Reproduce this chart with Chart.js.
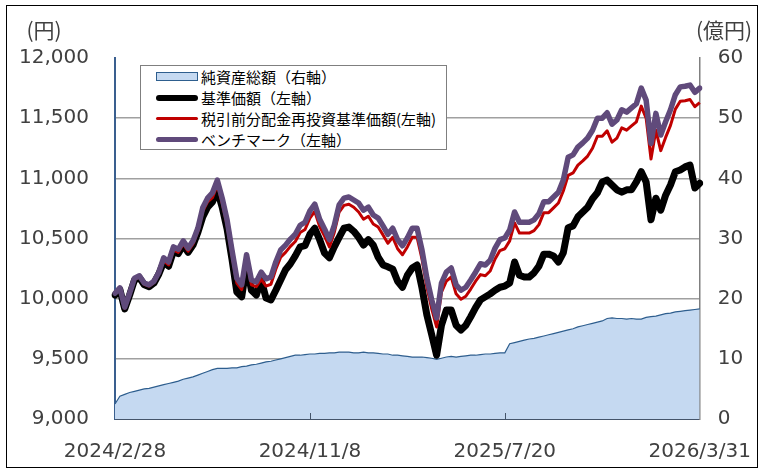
<!DOCTYPE html>
<html>
<head>
<meta charset="utf-8">
<script src="https://cdn.jsdelivr.net/npm/chart.js@4.4.1/dist/chart.umd.min.js"></script>
<style>
  body { margin: 0; background: #fff; }
  #wrap { position: relative; width: 764px; height: 469px; }
  #frame { position: absolute; left: 6px; top: 5px; width: 752px; height: 463px; border: 1px solid #000; box-sizing: border-box; pointer-events: none; }
  #legend { position: absolute; left: 140px; top: 65px; width: 307px; height: 85px; border: 1px solid #7f7f7f; background: #fff; box-sizing: border-box; font-family: 'Noto Sans CJK JP'; font-size: 15px; color: #000; }
  .row { height: 21px; display: flex; align-items: center; white-space: nowrap; }
  .swatch { width: 42px; margin-left: 15px; margin-right: 3px; box-sizing: border-box; }
</style>
</head>
<body>
<div id="wrap">
  <canvas id="myChart"></canvas>
  <div id="legend"></div>
  <div id="frame"></div>
</div>
<script>
// x axis labels (only 4 dates are printed)
const tickLabels = ['2024/2/28', '2024/11/8', '2025/7/20', '2026/3/31'];
const tickIndex = [0, 40, 80, 120];

// 純資産総額 (億円, right axis)
const netAssets = [
  2.5, 3.8, 4.1, 4.4, 4.6, 4.8, 5.0, 5.1, 5.3, 5.5,
  5.7, 5.9, 6.1, 6.3, 6.6, 6.8, 7.0, 7.3, 7.6, 7.9,
  8.2, 8.4, 8.4, 8.4, 8.5, 8.5, 8.7, 8.8, 9.0, 9.1,
  9.3, 9.5, 9.6, 9.8, 10.0, 10.2, 10.4, 10.6, 10.6, 10.7,
  10.8, 10.8, 10.9, 10.9, 11.0, 11.0, 11.1, 11.1, 11.1, 11.0,
  11.0, 11.1, 11.0, 11.0, 10.9, 10.8, 10.8, 10.6, 10.6, 10.5,
  10.4, 10.3, 10.3, 10.3, 10.2, 10.1, 9.9, 10.1, 10.3, 10.4,
  10.3, 10.4, 10.5, 10.6, 10.6, 10.7, 10.8, 10.8, 10.9, 11.0,
  11.0, 12.5, 12.7, 12.9, 13.1, 13.3, 13.4, 13.6, 13.8, 14.0,
  14.2, 14.4, 14.6, 14.8, 15.0, 15.3, 15.5, 15.7, 15.9, 16.1,
  16.3, 16.7, 16.8, 16.7, 16.7, 16.6, 16.7, 16.6, 16.6, 16.9,
  17.0, 17.1, 17.3, 17.5, 17.6, 17.8, 17.9, 18.0, 18.1, 18.2,
  18.3
];

// 基準価額 (円)
const nav = [
  10030, 10075, 9915, 10030, 10155, 10175, 10115, 10100, 10130, 10205,
  10305, 10270, 10395, 10375, 10445, 10385, 10445, 10550, 10680, 10760,
  10805, 10900, 10760, 10580, 10330, 10055, 10015, 10280, 10070, 10030,
  10155, 10005, 9990, 10070, 10155, 10240, 10290, 10355, 10430, 10440,
  10535, 10585, 10490, 10380, 10340, 10430, 10510, 10585, 10595, 10560,
  10510, 10445, 10490, 10445, 10345, 10280, 10265, 10245, 10145, 10095,
  10195, 10255, 10280, 10090, 9865, 9700, 9530, 9780, 9905, 9905,
  9780, 9740, 9780, 9850, 9925, 9990, 10015, 10040, 10070, 10095,
  10105, 10130, 10305, 10195, 10180, 10180, 10215, 10270, 10370, 10370,
  10355, 10305, 10380, 10590, 10605, 10680, 10720, 10760, 10830, 10880,
  10970, 10985, 10945, 10905, 10885, 10905, 10905, 10970, 11055, 10970,
  10655, 10835, 10735, 10860, 10945, 11055, 11070, 11095, 11110, 10920,
  10960
];

// 税引前分配金再投資基準価額 (円)
const navReinvested = [
  10040, 10080, 9920, 10035, 10160, 10180, 10120, 10105, 10135, 10210,
  10315, 10280, 10405, 10385, 10455, 10395, 10455, 10560, 10725, 10805,
  10840, 10945, 10795, 10615, 10365, 10130, 10075, 10325, 10115, 10100,
  10160, 10105, 10120, 10245, 10345, 10385, 10435, 10475, 10550, 10575,
  10670, 10725, 10600, 10520, 10430, 10550, 10720, 10775, 10785, 10760,
  10720, 10660, 10685, 10620, 10595, 10530, 10460, 10510, 10415, 10365,
  10430, 10510, 10510, 10330, 10095, 9915, 9765, 10055, 10145, 10180,
  10040, 9995, 10020, 10080, 10145, 10200, 10190, 10230, 10330, 10400,
  10415, 10480, 10630, 10545, 10545, 10545, 10565, 10615, 10715, 10715,
  10755, 10795, 10895, 11025, 11045, 11110, 11145, 11185, 11250, 11350,
  11350, 11395, 11300, 11335, 11420, 11400, 11435, 11470, 11600, 11500,
  11160, 11400, 11230, 11340, 11440, 11575, 11640, 11645, 11655, 11595,
  11630
];

// ベンチマーク (円)
const benchmark = [
  10045, 10090, 9930, 10045, 10170, 10190, 10130, 10115, 10145, 10220,
  10340, 10305, 10430, 10410, 10480, 10420, 10480, 10585, 10755, 10835,
  10880, 10985, 10835, 10655, 10405, 10170, 10115, 10365, 10155, 10140,
  10220, 10165, 10180, 10305, 10405, 10445, 10495, 10535, 10610, 10635,
  10730, 10785, 10660, 10580, 10490, 10610, 10780, 10835, 10845, 10820,
  10795, 10735, 10760, 10695, 10670, 10605, 10535, 10585, 10490, 10440,
  10505, 10585, 10585, 10405, 10170, 9990, 9840, 10130, 10220, 10255,
  10115, 10070, 10095, 10155, 10220, 10290, 10280, 10320, 10420, 10490,
  10505, 10570, 10720, 10635, 10635, 10635, 10655, 10705, 10805, 10805,
  10845, 10885, 10985, 11175, 11195, 11260, 11295, 11335, 11400, 11500,
  11500, 11545, 11450, 11485, 11570, 11550, 11585, 11620, 11750, 11650,
  11290, 11540, 11360, 11470, 11570, 11695, 11760, 11765, 11775, 11715,
  11750
];

const labels = benchmark.map((v, i) => {
  const k = tickIndex.indexOf(i);
  return k >= 0 ? tickLabels[k] : '';
});

const textColor = '#404040';

const decor = {
  id: 'decor',
  afterDraw(chart) {
    const { ctx, chartArea, scales: { x } } = chart;
    ctx.save();
    ctx.strokeStyle = '#44546A';
    ctx.lineWidth = 1;
    tickIndex.slice(1, -1).forEach((i) => {
      const px = Math.round(x.getPixelForValue(i)) + 0.5;
      ctx.beginPath();
      ctx.moveTo(px, chartArea.bottom);
      ctx.lineTo(px, chartArea.bottom - 6);
      ctx.stroke();
    });
    ctx.fillStyle = textColor;
    ctx.font = '21px "Noto Sans CJK JP"';
    ctx.textAlign = 'center';
    ctx.textBaseline = 'middle';
    ctx.fillText('(円)', 44, 30);
    ctx.fillText('(億円)', 724, 30);
    ctx.restore();
  }
};

const data = {
  labels: labels,
  datasets: [
    {
      label: '純資産総額（右軸）',
      data: netAssets,
      yAxisID: 'y1',
      fill: 'origin',
      backgroundColor: '#C5D9F1',
      borderColor: '#2E5E8E',
      borderWidth: 1.2,
      pointRadius: 0,
      order: 3
    },
    {
      label: '基準価額（左軸）',
      data: nav,
      yAxisID: 'y',
      borderColor: '#000000',
      borderWidth: 7,
      pointRadius: 0,
      borderJoinStyle: 'round',
      borderCapStyle: 'round',
      order: 2
    },
    {
      label: '税引前分配金再投資基準価額(左軸)',
      data: navReinvested,
      yAxisID: 'y',
      borderColor: '#C00000',
      borderWidth: 3,
      pointRadius: 0,
      borderJoinStyle: 'round',
      order: 1
    },
    {
      label: 'ベンチマーク（左軸）',
      data: benchmark,
      yAxisID: 'y',
      borderColor: '#604A7B',
      borderWidth: 5.5,
      pointRadius: 0,
      borderJoinStyle: 'round',
      borderCapStyle: 'round',
      order: 0
    }
  ]
};

const axisFont = { family: 'DejaVu Sans', size: 20 };

const config = {
  type: 'line',
  data: data,
  plugins: [decor],
  options: {
    responsive: true,
    maintainAspectRatio: false,
    animation: false,
    layout: { padding: { top: 58, left: 0, right: 0, bottom: 0 } },
    plugins: { legend: { display: false }, tooltip: { enabled: false } },
    scales: {
      x: {
        type: 'category',
        offset: false,
        grid: { display: false },
        border: { color: '#44546A', width: 2 },
        ticks: { autoSkip: false, maxRotation: 0, padding: 13, color: textColor, font: axisFont },
        afterFit: (s) => { s.height = 50; }
      },
      y: {
        position: 'left',
        min: 9000,
        max: 12000,
        grid: {
          drawTicks: false,
          color: (c) => (c.tick.value === 9000 || c.tick.value === 12000) ? 'rgba(0,0,0,0)' : '#A0A0A0',
          lineWidth: 1.5
        },
        border: { color: '#3A5F8F', width: 2 },
        ticks: {
          stepSize: 500,
          padding: 26,
          color: textColor,
          font: axisFont,
          callback: (v) => v.toLocaleString('en-US')
        },
        afterFit: (s) => { s.width = 115; }
      },
      y1: {
        position: 'right',
        min: 0,
        max: 60,
        grid: { display: false, drawTicks: false },
        border: { color: '#808080', width: 1.5 },
        ticks: { stepSize: 10, padding: 18, color: textColor, font: axisFont },
        afterFit: (s) => { s.width = 61; }
      }
    }
  }
};

const myChart = new Chart(document.getElementById('myChart'), config);

// HTML legend built from the datasets
const legendBox = document.getElementById('legend');
myChart.data.datasets.forEach((ds) => {
  const row = document.createElement('div');
  row.className = 'row';
  const sw = document.createElement('span');
  sw.className = 'swatch';
  if (ds.fill) {
    sw.style.height = '9px';
    sw.style.background = ds.backgroundColor;
    sw.style.border = '1.5px solid ' + ds.borderColor;
  } else {
    sw.style.height = Math.min(ds.borderWidth, 6) + 'px';
    sw.style.background = ds.borderColor;
    sw.style.borderRadius = '6px';
  }
  const txt = document.createElement('span');
  txt.textContent = ds.label;
  row.appendChild(sw);
  row.appendChild(txt);
  legendBox.appendChild(row);
});
</script>
</body>
</html>
